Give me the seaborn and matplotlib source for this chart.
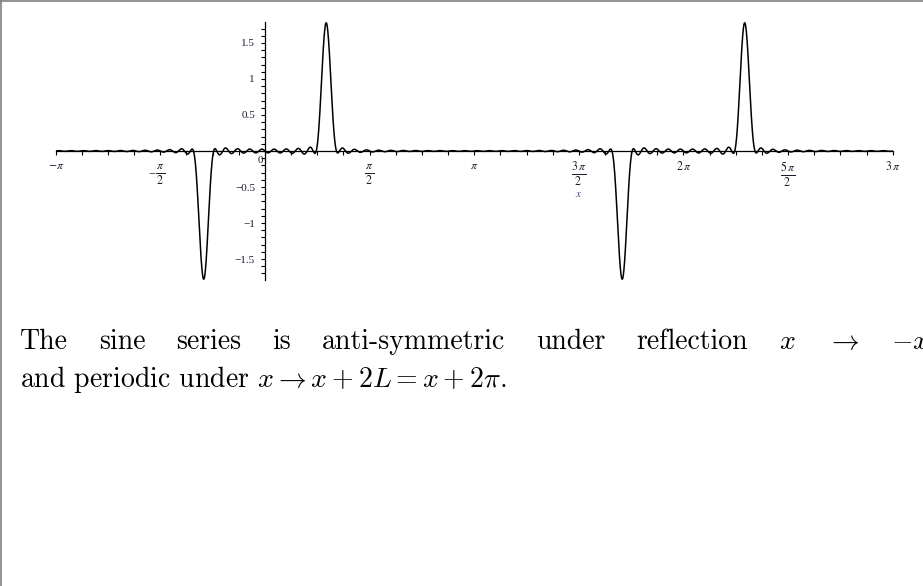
import numpy as np
import pandas as pd
import matplotlib
matplotlib.use("Agg")
import matplotlib.pyplot as plt
import seaborn as sns
from matplotlib.ticker import MultipleLocator
from matplotlib.lines import Line2D

# Partial sine series of a narrow bump placed inside (0, pi)
bump_center = 0.92      # position of the bump on (0, pi)
bump_width = 0.058      # gaussian width of the bump
bump_peak = 1.78        # height reached by the partial sum
n_terms = 34            # number of sine terms kept

# x ticks in units of pi; fractions are stacked as numerator over a barred denominator
x_tick_values = [-1.0, -0.5, 0.5, 1.0, 1.5, 2.0, 2.5, 3.0]
x_tick_labels = [r"$-\pi$",
                 "$\\pi$\n$\\overline{\\,2\\,}$",
                 "$\\pi$\n$\\overline{\\,2\\,}$",
                 r"$\pi$",
                 "$3\\,\\pi$\n$\\overline{\\;\\,2\\;\\,}$",
                 r"$2\,\pi$",
                 "$5\\,\\pi$\n$\\overline{\\;\\,2\\;\\,}$",
                 r"$3\,\pi$"]
y_tick_values = [-1.5, -1.0, -0.5, 0.5, 1.0, 1.5]
y_tick_labels = ["\u22121.5", "\u22121", "\u22120.5", "0.5", "1", "1.5"]

n = np.arange(1, n_terms + 1)
coeffs = np.sin(n * bump_center) * np.exp(-0.5 * (n * bump_width) ** 2)
xs = np.linspace(-np.pi, 3 * np.pi, 6001)
ys = np.sin(np.outer(xs, n)) @ coeffs
ys *= bump_peak / ys.max()
df = pd.DataFrame({"x": xs, "y": ys})

sns.set_theme(style="white")
plt.rcParams["font.family"] = ["Liberation Serif", "DejaVu Serif"]
plt.rcParams["mathtext.fontset"] = "stix"

W, H = 923, 586
fig = plt.figure(figsize=(W / 100, H / 100), dpi=100)
fig.patch.set_facecolor("white")
ax = fig.add_axes([55.7 / W, (H - 279.9) / H, 837 / W, 257.8 / H])
ax.patch.set_visible(False)

sns.lineplot(data=df, x="x", y="y", ax=ax, color="black", linewidth=1.1,
             estimator=None, sort=False)

ax.set_xlim(-np.pi, 3 * np.pi)
ax.set_ylim(-1.79, 1.79)
ax.set_xlabel("")
ax.set_ylabel("")

# axes crossing at the origin
for side in ("top", "right"):
    ax.spines[side].set_visible(False)
ax.spines["left"].set_position(("data", 0))
ax.spines["bottom"].set_position(("data", 0))
for side in ("left", "bottom"):
    ax.spines[side].set_color("black")
    ax.spines[side].set_linewidth(0.9)

label_color = "#1c1c30"
ax.set_xticks(np.pi * np.array(x_tick_values))
ax.set_xticklabels(x_tick_labels, color=label_color, fontsize=8.5,
                   linespacing=1.05)
ax.set_yticks(y_tick_values)
ax.set_yticklabels(y_tick_labels, color=label_color, fontsize=8)
ax.xaxis.set_minor_locator(MultipleLocator(np.pi / 8))
ax.yaxis.set_minor_locator(MultipleLocator(0.1))
ax.tick_params(axis="both", which="both", direction="out", color="black",
               width=0.8, bottom=True, left=True)
ax.tick_params(axis="both", which="major", length=3.2)
ax.tick_params(axis="both", which="minor", length=2.6)
ax.tick_params(axis="x", which="major", pad=3)
ax.tick_params(axis="y", which="major", pad=4)

# sign of the -pi/2 fraction, level with its bar
ax.annotate("\u2212", (-0.5 * np.pi, 0), xytext=(-6.2, -16.3),
            textcoords="offset points", ha="center", va="center",
            fontsize=8.5, color=label_color)
ax.annotate("0", (0, 0), xytext=(-1.5, -3.5), textcoords="offset points",
            ha="right", va="top", fontsize=8, color=label_color)
ax.annotate("$x$", (1.5 * np.pi, 0), xytext=(0, -31), textcoords="offset points",
            ha="center", va="center", fontsize=8, color="#4a3f8f")

# caption below the plot, first line justified across the page
fs = 20
left_px, right_px = 20, 929
y1 = (H - 349) / H
y2 = (H - 387) / H
tokens = ["The", "sine", "series", "is", "anti-symmetric", "under",
          "reflection", "$x$", r"$\to$", "$-x$"]
words = [fig.text(0, y1, t, fontsize=fs, family=["cmr10", "DejaVu Serif"],
                  math_fontfamily="cm", va="baseline", ha="left", color="black")
         for t in tokens]
fig.text(left_px / W, y2, r"and periodic under $x \to x + 2L = x + 2\pi$.",
         fontsize=fs, family=["cmr10", "DejaVu Serif"], math_fontfamily="cm",
         va="baseline", ha="left", color="black")

fig.canvas.draw()
renderer = fig.canvas.get_renderer()
widths = [w.get_window_extent(renderer).width for w in words]
gap = (right_px - left_px - sum(widths)) / (len(words) - 1)
pos = left_px
for w, wd in zip(words, widths):
    w.set_x(pos / W)
    pos += wd + gap

# page frame on the left and top edges
fig.add_artist(Line2D([0.6 / W, 0.6 / W], [0, 1], transform=fig.transFigure,
                      color="#808080", linewidth=1.2))
fig.add_artist(Line2D([0, 1], [1 - 0.6 / H, 1 - 0.6 / H], transform=fig.transFigure,
                      color="#808080", linewidth=1.2))

fig.savefig("out.png", dpi=100)
